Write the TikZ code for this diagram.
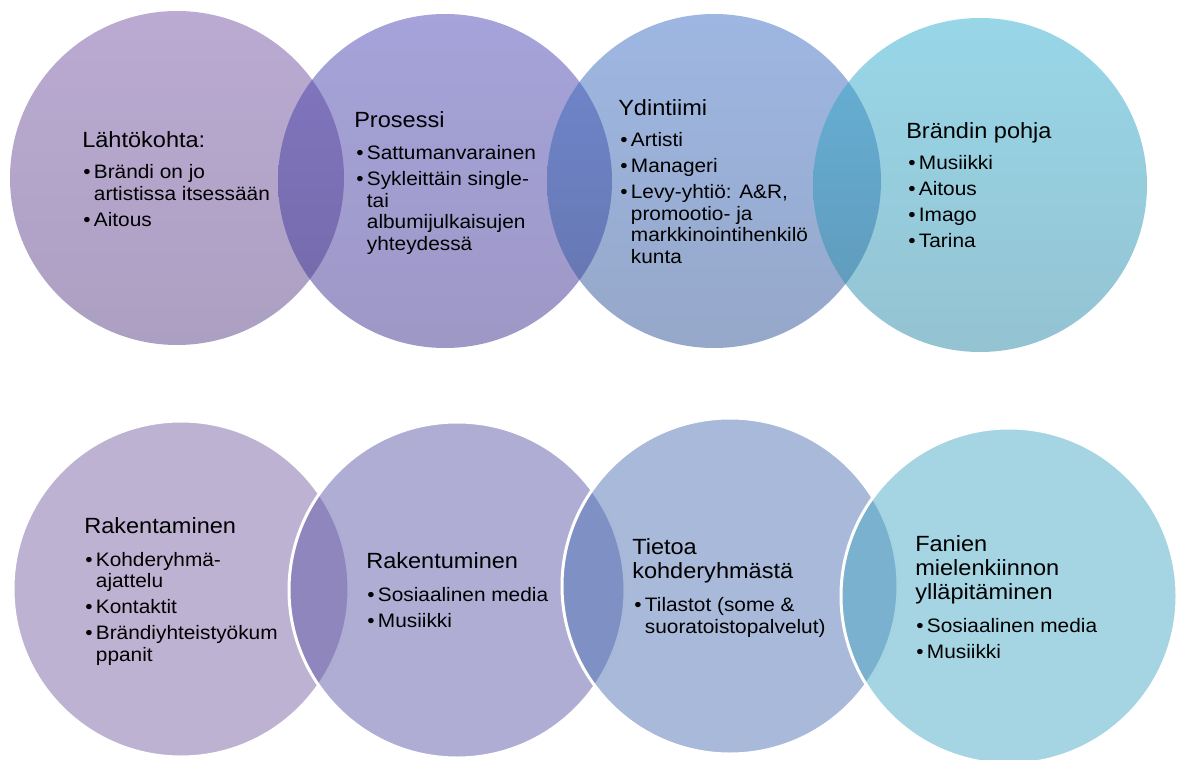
\documentclass[tikz,border=0pt]{standalone}
\usepackage{fontspec}
\setmainfont{Liberation Sans}[FakeStretch=1.07]

% colours (base colours, shown at 50% opacity over white)
\definecolor{tonetop}{RGB}{119,85,165}
\definecolor{tonebot}{RGB}{89,65,133}
\definecolor{ttwotop}{RGB}{75,71,181}
\definecolor{ttwobot}{RGB}{61,49,141}
\definecolor{tthreetop}{RGB}{61,111,197}
\definecolor{tthreebot}{RGB}{45,81,149}
\definecolor{tfourtop}{RGB}{49,175,209}
\definecolor{tfourbot}{RGB}{41,135,165}
\definecolor{bone}{RGB}{125,101,165}
\definecolor{btwo}{RGB}{95,91,169}
\definecolor{bthree}{RGB}{81,115,181}
\definecolor{bfour}{RGB}{75,171,197}

\newcommand{\blt}{\makebox[8pt][l]{\textbullet}}
\newcommand{\ind}{\hspace*{8pt}}
\newcommand{\gap}{\\[3.4pt]}

\begin{document}
\begin{tikzpicture}[x=0.75pt, y=-0.75pt,
    topc/.style = {circle, minimum size=250.5pt, fill opacity=0.5},
    botc/.style = {circle, minimum size=252pt, fill opacity=0.5, draw=white, draw opacity=1, line width=2.25pt},
    head/.style = {anchor=base west, inner sep=0pt, align=left, font=\fontsize{16.5pt}{18pt}\selectfont},
    list/.style = {anchor=base west, inner sep=0pt, align=left, font=\fontsize{14.6pt}{16.1pt}\selectfont}]
    \useasboundingbox (0,0) rectangle (1182,760);

    % top row (texts placed by the baseline of their last line)
    \node[topc, top color=tonetop, bottom color=tonebot] (t1) at (177,178) {};
    \node[topc, top color=ttwotop, bottom color=ttwobot] (t2) at (445,181) {};
    \node[topc, top color=tthreetop, bottom color=tthreebot] (t3) at (714,181) {};
    \node[topc, top color=tfourtop, bottom color=tfourbot] (t4) at (980,185) {};

    \node[head] (t1h) at (82,147) {Lähtökohta:};
    \node[list] (t1l) at (83,226) {\blt Brändi on jo\\\ind artistissa itsessään\gap\blt Aitous};
    \node[head] (t2h) at (354,127) {Prosessi};
    \node[list] (t2l) at (356,250) {\blt Sattumanvarainen\gap\blt Sykleittäin single-\\\ind tai\\\ind albumijulkaisujen\\\ind yhteydessä};
    \node[head] (t3h) at (618,115) {Ydintiimi};
    \node[list] (t3l) at (620,263) {\blt Artisti\gap\blt Manageri\gap\blt Levy-yhtiö: A\&R,\\\ind promootio- ja\\\ind markkinointihenkilö\\\ind kunta};
    \node[head] (t4h) at (906,138) {Brändin pohja};
    \node[list] (t4l) at (908,247) {\blt Musiikki\gap\blt Aitous\gap\blt Imago\gap\blt Tarina};

    % bottom row
    \node[botc, fill=bone] (b1) at (181,589) {};
    \node[botc, fill=btwo] (b2) at (457,590) {};
    \node[botc, fill=bthree] (b3) at (730,586) {};
    \node[botc, fill=bfour] (b4) at (1009,596) {};

    \node[head] (b1h) at (84,533) {Rakentaminen};
    \node[list] (b1l) at (85,661) {\blt Kohderyhmä-\\\ind ajattelu\gap\blt Kontaktit\gap\blt Brändiyhteistyökum\\\ind ppanit};
    \node[head] (b2h) at (366,568) {Rakentuminen};
    \node[list] (b2l) at (367,627) {\blt Sosiaalinen media\gap\blt Musiikki};
    \node[head] (b3h) at (632,578) {Tietoa\\kohderyhmästä};
    \node[list] (b3l) at (634,633) {\blt Tilastot (some \&\\\ind suoratoistopalvelut)};
    \node[head] (b4h) at (915,599) {Fanien\\mielenkiinnon\\ylläpitäminen};
    \node[list] (b4l) at (916,658) {\blt Sosiaalinen media\gap\blt Musiikki};
\end{tikzpicture}
\end{document}
